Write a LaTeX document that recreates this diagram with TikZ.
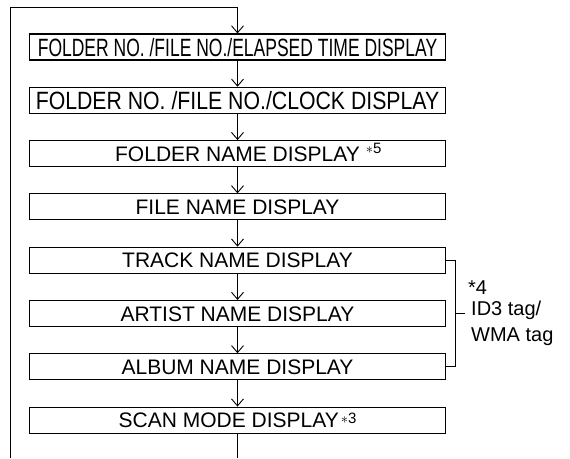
\documentclass[tikz,border=0pt]{standalone}
\usepackage{fontspec}
\setmainfont{Liberation Sans}
\usetikzlibrary{positioning,calc,arrows.meta}

\newcommand\starnote[2]{\raisebox{#1}{\fontsize{15}{15}\selectfont$\ast$#2}}

\begin{document}
\begin{tikzpicture}[x=1pt, y=-1pt, >={Straight Barb[length=7pt,width=12pt]},
  dispbox/.style={draw, line width=1.1pt, minimum width=416pt, minimum height=26pt, inner sep=0pt,
    text height=15pt, text depth=0pt, font=\fontsize{21}{25}\selectfont},
  flow/.style={line width=0.9pt}]
  \useasboundingbox (0,0) rectangle (570,458);
  % display modes, top to bottom
  \node[dispbox, text height=18pt] (d1) at (237.5,47) {\scalebox{0.70}[1]{\fontsize{25}{30}\selectfont FOLDER NO. /FILE NO./ELAPSED TIME DISPLAY}};
  \node[dispbox, text height=18pt] (d2) at (237.5,100.3) {\scalebox{0.85}[1]{\fontsize{25}{30}\selectfont FOLDER NO. /FILE NO./CLOCK DISPLAY}};
  \foreach \k/\txt in {3/{FOLDER NAME DISPLAY\rlap{\hspace{6pt}\starnote{8pt}{5}}}, 4/{FILE NAME DISPLAY},
      5/{TRACK NAME DISPLAY}, 6/{ARTIST NAME DISPLAY}, 7/{ALBUM NAME DISPLAY},
      8/{SCAN MODE DISPLAY\hspace{2pt}\starnote{4.5pt}{3}}} {
    \node[dispbox] (d\k) at (237.5,{47+53.3*(\k-1)}) {\txt};
  }
  \foreach \a/\b in {d1/d2, d2/d3, d3/d4, d4/d5, d5/d6, d6/d7, d7/d8}
    \draw[flow, ->] (\a) -- (\b);
  % return loop
  \coordinate (loopbot) at (10,458);
  \coordinate (looptop) at (237.5,7);
  \coordinate (tail) at (237.5,458);
  \draw[flow, ->] (loopbot) |- (looptop) -- (d1);
  \draw[flow] (d8) -- (tail);
  % tag bracket
  \draw[flow] (d5.east) -- ++(9,0) coordinate (brtop) |- (d7.east);
  \draw[flow] (brtop |- d6.east) -- ++(10,0) coordinate (brtick);
  \node[anchor=base west, inner sep=0pt, font=\fontsize{20}{24}\selectfont] (starfour) at (468,294) {*4};
  \node[anchor=base west, inner sep=0pt, align=left, font=\fontsize{20}{26.7}\selectfont] (tags) at (471,341.7) {ID3 tag/\\WMA tag};
\end{tikzpicture}
\end{document}
